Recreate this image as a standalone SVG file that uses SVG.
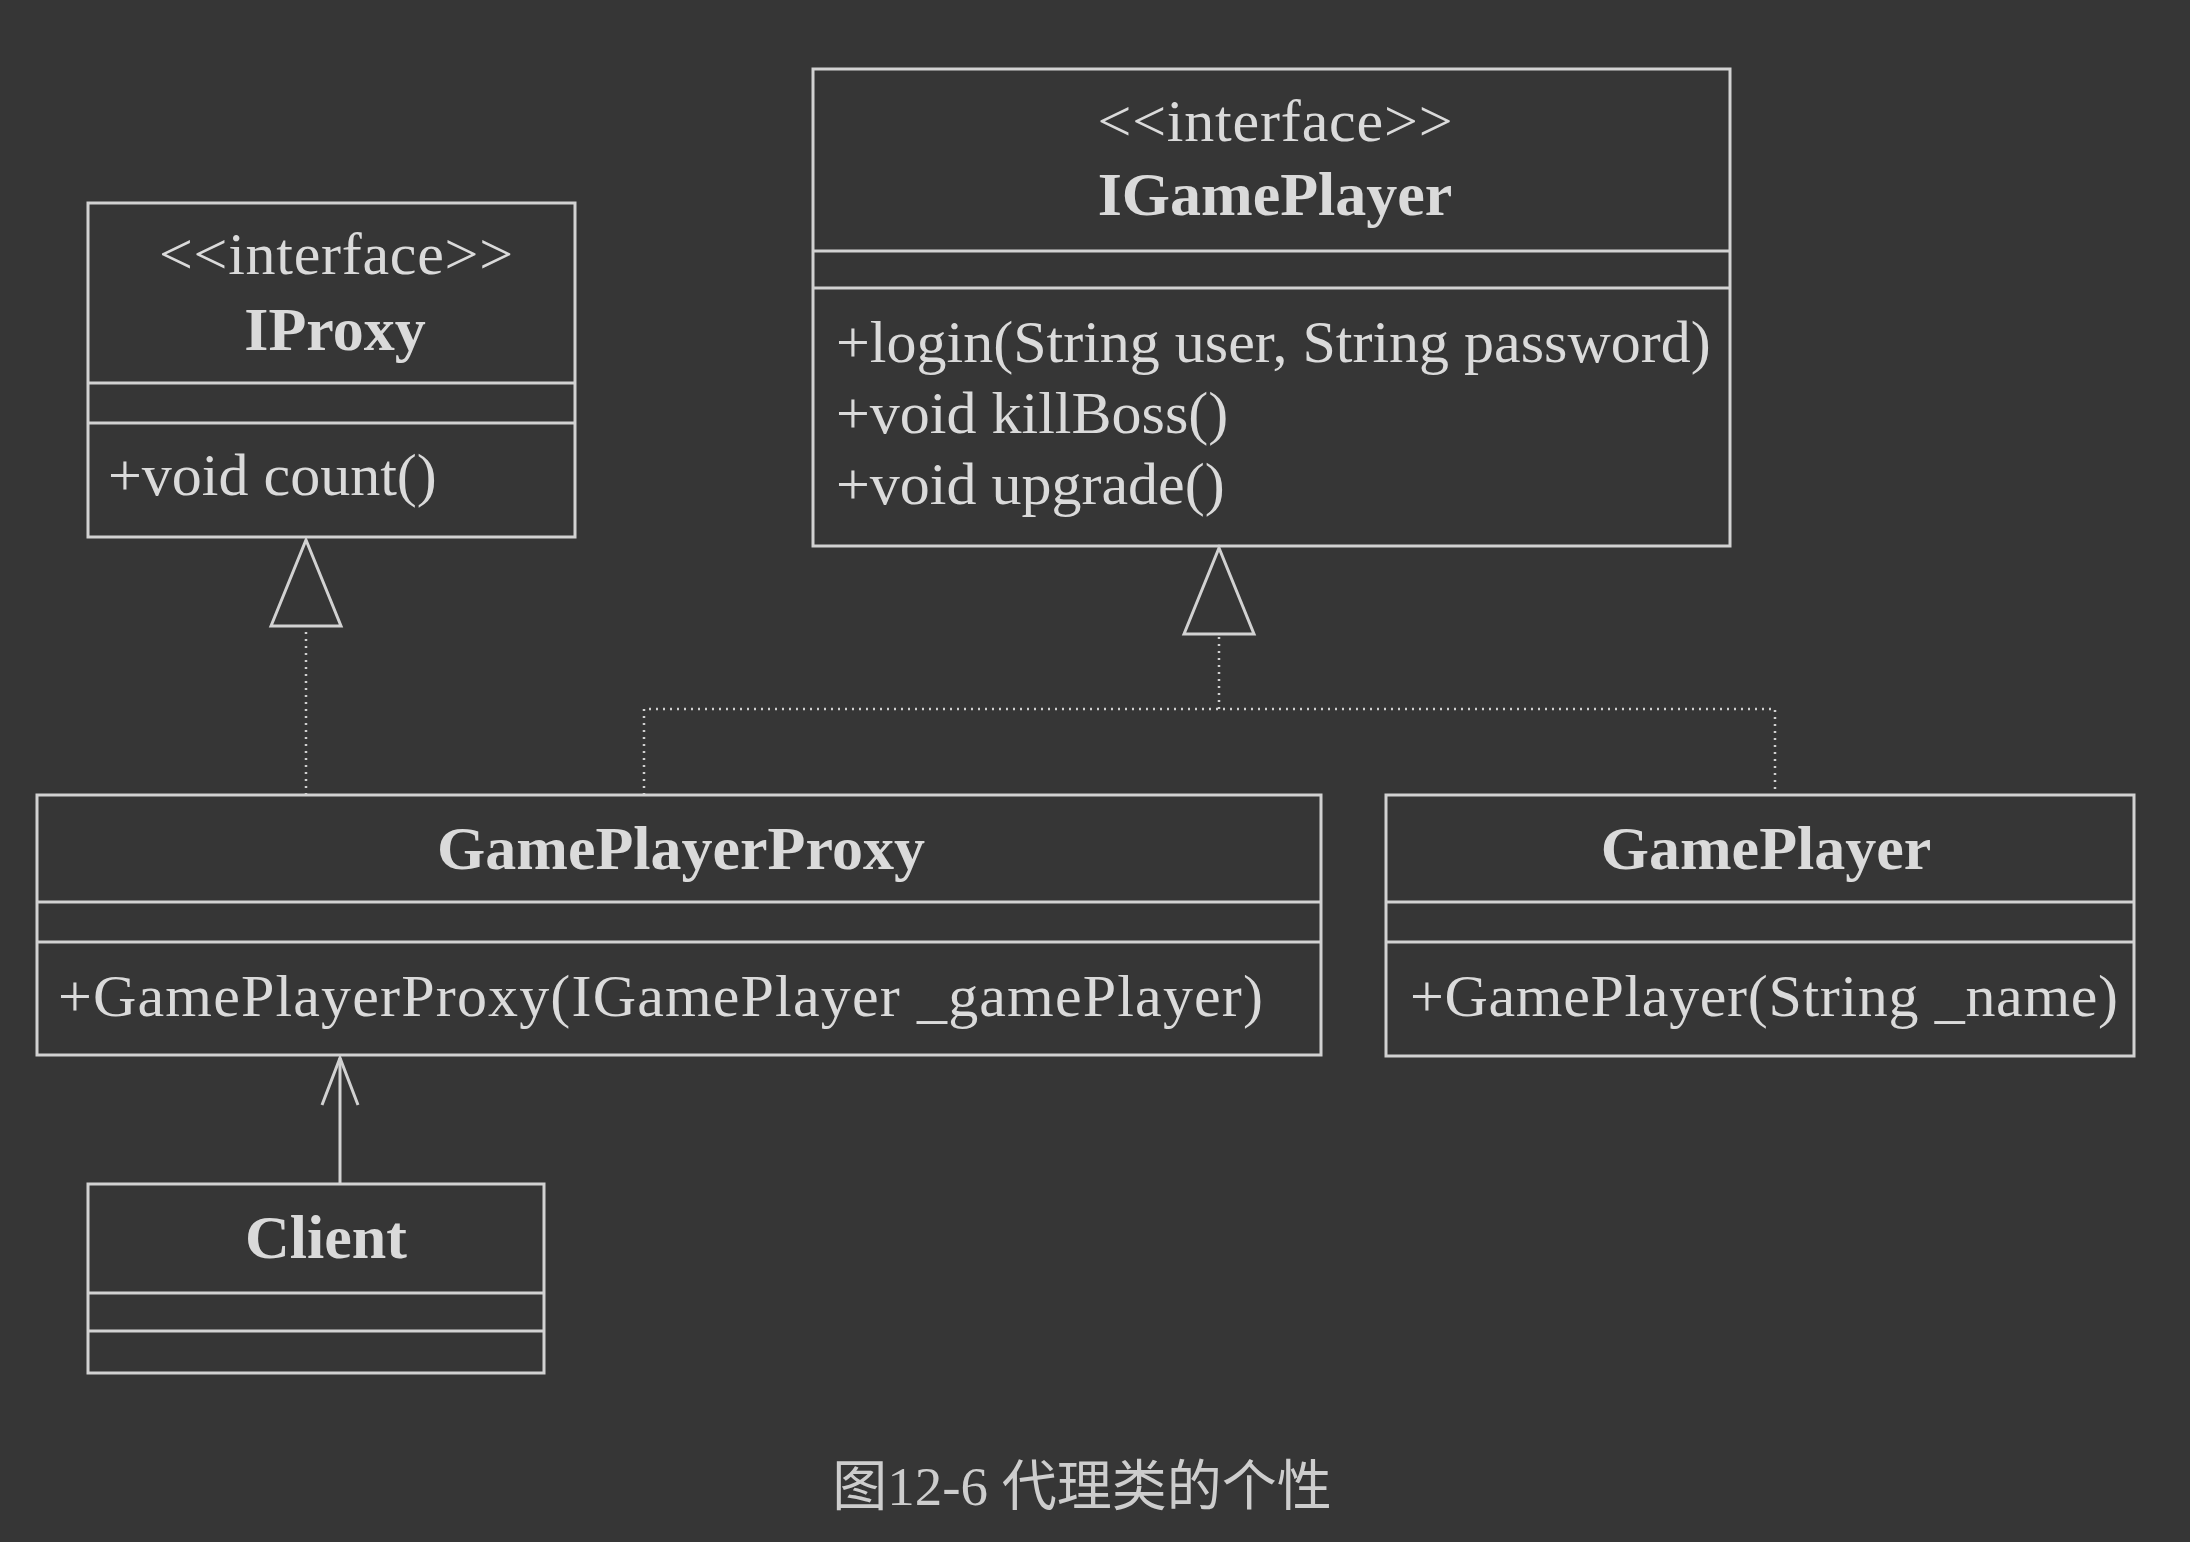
<svg xmlns="http://www.w3.org/2000/svg" width="2190" height="1542" viewBox="0 0 2190 1542">
<defs>
<style>
.box{fill:none;stroke:#d2d2d2;stroke-width:3}
.sep{stroke:#d2d2d2;stroke-width:3}
.t{font-family:"Liberation Serif","Times New Roman",serif;font-size:60px;fill:#dadada}
.b{font-weight:bold;font-size:62px}
.c{text-anchor:middle}
.dot{fill:none;stroke:#cfcfcf;stroke-width:2.5;stroke-dasharray:2 5}
.solid{fill:none;stroke:#d2d2d2;stroke-width:3}
.cap{font-family:"Liberation Serif","Noto Sans CJK SC",serif;font-size:55px;fill:#cdcdcd;text-anchor:middle}
</style>
<marker id="tri" markerUnits="userSpaceOnUse" viewBox="0 0 86 70" markerWidth="86" markerHeight="70" refX="86" refY="35" orient="auto" overflow="visible">
<path d="M0,0 L86,35 L0,70 Z" fill="#363636" stroke="#d2d2d2" stroke-width="3"/>
</marker>
<marker id="open" markerUnits="userSpaceOnUse" viewBox="0 0 47 36" markerWidth="47" markerHeight="36" refX="47" refY="18" orient="auto" overflow="visible">
<path d="M0,0 L47,18 L0,36" fill="none" stroke="#d2d2d2" stroke-width="3"/>
</marker>
</defs>
<rect width="2190" height="1542" fill="#363636"/>

<g id="connectors">
<path class="dot" d="M306,795 V626"/>
<path class="solid" d="M306,626 V540" marker-end="url(#tri)" stroke-opacity="0"/>
<path class="dot" d="M644,795 V709 H1775 V795"/>
<path class="dot" d="M1219,709 V634"/>
<path class="solid" d="M1219,634 V548" marker-end="url(#tri)" stroke-opacity="0"/>
<path class="solid" d="M340,1184 V1058" marker-end="url(#open)"/>
</g>

<g id="IProxy">
<rect class="box" x="88" y="203" width="487" height="334"/>
<line class="sep" x1="88" y1="383" x2="575" y2="383"/>
<line class="sep" x1="88" y1="423" x2="575" y2="423"/>
<text class="t c" x="336" y="274" textLength="354" lengthAdjust="spacing">&lt;&lt;interface&gt;&gt;</text>
<text class="t b c" x="335" y="350">IProxy</text>
<text class="t" x="108" y="495">+void count()</text>
</g>

<g id="IGamePlayer">
<rect class="box" x="813" y="69" width="917" height="477"/>
<line class="sep" x1="813" y1="251" x2="1730" y2="251"/>
<line class="sep" x1="813" y1="288" x2="1730" y2="288"/>
<text class="t c" x="1275" y="141" textLength="355" lengthAdjust="spacing">&lt;&lt;interface&gt;&gt;</text>
<text class="t b c" x="1275" y="215">IGamePlayer</text>
<text class="t" x="836" y="362">+login(String user, String password)</text>
<text class="t" x="836" y="433">+void killBoss()</text>
<text class="t" x="836" y="504">+void upgrade()</text>
</g>

<g id="GamePlayerProxy">
<rect class="box" x="37" y="795" width="1284" height="260"/>
<line class="sep" x1="37" y1="902" x2="1321" y2="902"/>
<line class="sep" x1="37" y1="942" x2="1321" y2="942"/>
<text class="t b c" x="681" y="869">GamePlayerProxy</text>
<text class="t" x="58" y="1016" textLength="1205" lengthAdjust="spacing">+GamePlayerProxy(IGamePlayer _gamePlayer)</text>
</g>

<g id="GamePlayer">
<rect class="box" x="1386" y="795" width="748" height="261"/>
<line class="sep" x1="1386" y1="902" x2="2134" y2="902"/>
<line class="sep" x1="1386" y1="942" x2="2134" y2="942"/>
<text class="t b c" x="1766" y="869">GamePlayer</text>
<text class="t" x="1410" y="1016" textLength="708" lengthAdjust="spacing">+GamePlayer(String _name)</text>
</g>

<g id="Client">
<rect class="box" x="88" y="1184" width="456" height="189"/>
<line class="sep" x1="88" y1="1293" x2="544" y2="1293"/>
<line class="sep" x1="88" y1="1331" x2="544" y2="1331"/>
<text class="t b c" x="326" y="1258">Client</text>
</g>

<text class="cap" x="1082" y="1505">图12-6 代理类的个性</text>
</svg>
